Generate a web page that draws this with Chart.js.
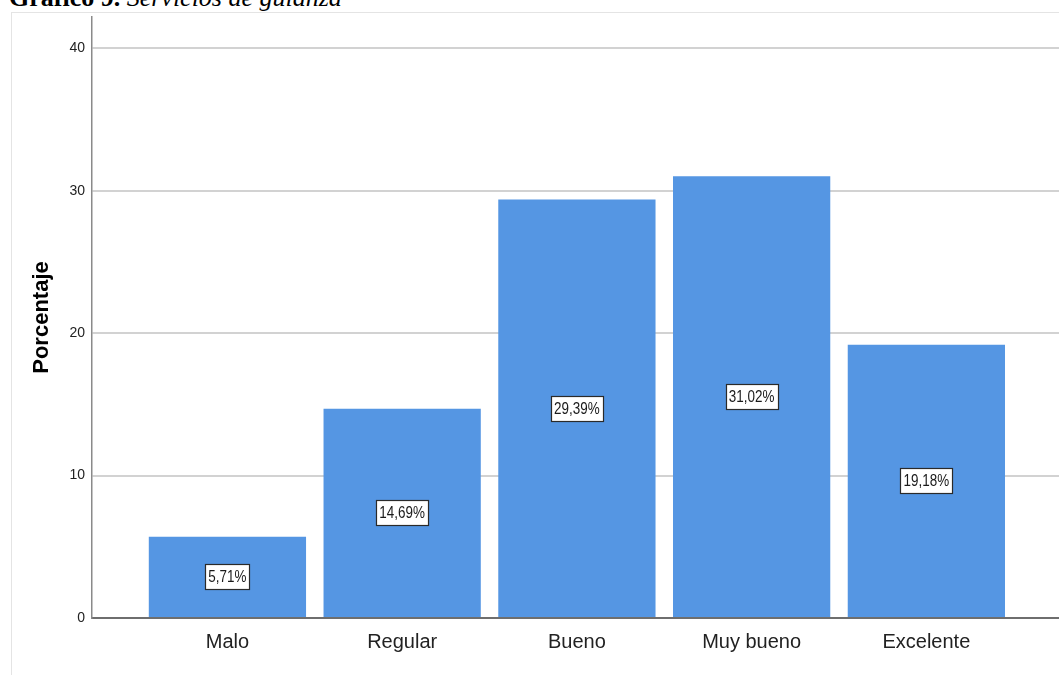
<!DOCTYPE html>
<html>
<head>
<meta charset="utf-8">
<script src="https://cdn.jsdelivr.net/npm/chart.js@4"></script>
<style>
    html, body { margin: 0; padding: 0; background: #fff; overflow: hidden; }
    #wrap { position: absolute; left: 0; top: 0; width: 1059px; height: 675px; }
    #frame { position: absolute; left: 11px; top: 12px; right: -2px; bottom: -2px; border-left: 1px solid #e4e4e4; border-top: 1px solid #e4e4e4; }
    #title { position: absolute; left: 9px; top: -15px; font: 26px/25px "Liberation Serif", "Times New Roman", serif; color: #000; white-space: nowrap; }
    #title b { font-weight: bold; }
    #title i { font-style: italic; }
    canvas { position: absolute; left: 0; top: 0; }
</style>
</head>
<body>
<div id="wrap">
    <div id="title"><b>Gráfico 9.</b> <i>Servicios de guianza</i></div>
    <div id="frame"></div>
    <canvas id="chart" width="1059" height="675"></canvas>
</div>
<script>
// Chart data
const categories = ['Malo', 'Regular', 'Bueno', 'Muy bueno', 'Excelente'];
const percentages = [5.71, 14.69, 29.39, 31.02, 19.18];
const yTicks = [0, 10, 20, 30, 40];

const sans = '"Liberation Sans", Arial, sans-serif';

// Draw the white value boxes in the middle of each bar
const valueLabels = {
    id: 'valueLabels',
    afterDatasetsDraw(chart) {
        const ctx = chart.ctx;
        const meta = chart.getDatasetMeta(0);
        const squeeze = 0.84; // mimic the condensed label font
        ctx.save();
        ctx.font = '16px ' + sans;
        ctx.textAlign = 'center';
        ctx.textBaseline = 'middle';
        meta.data.forEach((bar, i) => {
            const text = percentages[i].toFixed(2).replace('.', ',') + '%';
            const cx = bar.x;
            const cy = (bar.y + bar.base) / 2;
            const w = Math.round(ctx.measureText(text).width * squeeze + 6);
            const h = 25;
            const x0 = Math.round(cx - w / 2);
            const y0 = Math.round(cy - h / 2);
            ctx.fillStyle = '#ffffff';
            ctx.fillRect(x0, y0, w, h);
            ctx.strokeStyle = '#2a2a2a';
            ctx.lineWidth = 1.2;
            ctx.strokeRect(x0 + 0.5, y0 + 0.5, w, h);
            ctx.fillStyle = '#1a1a1a';
            ctx.save();
            ctx.translate(cx, cy + 1);
            ctx.scale(squeeze, 1);
            ctx.fillText(text, 0, 0);
            ctx.restore();
        });
        ctx.restore();
    }
};

new Chart(document.getElementById('chart').getContext('2d'), {
    type: 'bar',
    data: {
        datasets: [{
            label: 'Porcentaje',
            data: percentages.map((v, i) => ({ x: i, y: v })),
            backgroundColor: '#5596e3',
            borderWidth: 0,
            barPercentage: 0.9,
            categoryPercentage: 1
        }]
    },
    options: {
        responsive: false,
        animation: false,
        layout: { padding: { left: 0, top: 17, right: 0, bottom: 0 } },
        plugins: {
            legend: { display: false },
            tooltip: { enabled: false }
        },
        scales: {
            x: {
                type: 'linear',
                offset: false,
                min: -0.775,
                max: 4.759,
                afterBuildTicks: scale => { scale.ticks = categories.map((c, i) => ({ value: i })); },
                afterFit: scale => { scale.height = 57; },
                grid: { display: false, drawTicks: false },
                border: { display: true, color: '#6e6e6e', width: 2 },
                ticks: {
                    padding: 12,
                    color: '#222',
                    font: { family: sans, size: 20 },
                    callback: value => categories[value]
                }
            },
            y: {
                min: 0,
                max: 42.2,
                afterBuildTicks: scale => { scale.ticks = yTicks.map(v => ({ value: v })); },
                afterFit: scale => { scale.width = 92; },
                grid: { color: '#d2d2d2', lineWidth: 2, drawTicks: false },
                border: { display: true, color: '#8a8a8a', width: 1.5 },
                ticks: {
                    padding: 7,
                    color: '#222',
                    font: { family: sans, size: 14 }
                },
                title: {
                    display: true,
                    text: 'Porcentaje',
                    color: '#000',
                    font: { family: sans, size: 22, weight: 'bold' },
                    padding: { top: 29, bottom: 0 }
                }
            }
        }
    },
    plugins: [valueLabels]
});
</script>
</body>
</html>
